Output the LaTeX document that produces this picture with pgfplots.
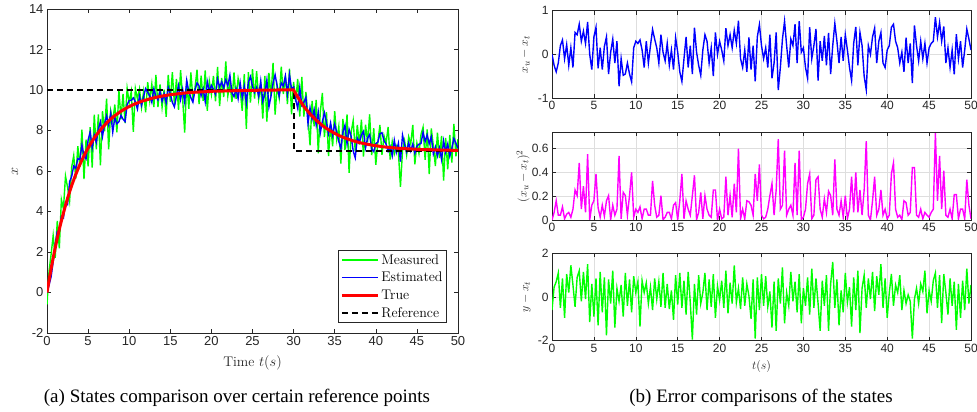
\documentclass[border=0pt]{standalone}
\usepackage{fontspec}
\newfontfamily\sansf{Liberation Sans}
\newfontfamily\serifT{Liberation Serif}
\usepackage{pgfplots}
\usepackage{pgfplotstable}
\pgfplotsset{compat=1.18}
\definecolor{axgray}{gray}{0.15}
\definecolor{gridgray}{gray}{0.87}
\definecolor{mmag}{rgb}{1,0,1}

\pgfplotstableread{
t xt e1 e2 meas est sq
0 0.00 0.00 -0.60 -0.60 0.00 0.000
0.25 0.61 -0.25 0.45 1.06 0.36 0.063
0.5 1.18 -0.40 0.70 1.88 0.78 0.160
0.75 1.71 -0.20 1.10 2.81 1.51 0.040
1 2.21 0.20 -0.50 1.71 2.41 0.040
1.25 2.68 0.33 0.85 3.53 3.01 0.109
1.5 3.13 -0.10 -0.95 2.18 3.03 0.010
1.75 3.54 0.22 1.05 4.59 3.76 0.048
2 3.93 -0.25 0.20 4.13 3.68 0.063
2.25 4.30 0.15 1.45 5.75 4.45 0.023
2.5 4.65 -0.30 0.55 5.20 4.35 0.090
2.75 4.97 0.50 -0.45 4.52 5.47 0.250
3 5.28 0.45 0.90 6.18 5.73 0.203
3.25 5.56 0.69 1.20 6.76 6.25 0.476
3.5 5.83 0.30 -0.20 5.63 6.13 0.090
3.75 6.08 0.53 1.15 7.23 6.61 0.281
4 6.32 0.25 -0.10 6.22 6.57 0.063
4.25 6.54 0.74 1.50 8.04 7.28 0.548
4.5 6.75 0.00 -1.15 5.60 6.75 0.000
4.75 6.95 -0.35 0.60 7.55 6.60 0.123
5 7.13 0.40 -0.90 6.23 7.53 0.160
5.25 7.31 0.62 0.85 8.16 7.93 0.384
5.5 7.47 -0.32 -1.30 6.17 7.15 0.102
5.75 7.63 0.15 1.15 8.78 7.78 0.023
6 7.77 -0.35 -0.70 7.07 7.42 0.123
6.25 7.90 0.18 0.90 8.80 8.08 0.032
6.5 8.03 0.40 -1.75 6.28 8.43 0.160
6.75 8.15 -0.45 0.80 8.95 7.70 0.203
7 8.26 0.05 -0.30 7.96 8.31 0.003
7.25 8.37 0.35 1.20 9.57 8.72 0.123
7.5 8.47 -0.20 -1.40 7.07 8.27 0.040
7.75 8.56 0.30 0.40 8.96 8.86 0.090
8 8.65 -0.73 -0.20 8.45 7.92 0.533
8.25 8.73 -0.10 0.55 9.28 8.63 0.010
8.5 8.81 -0.48 -0.90 7.91 8.33 0.230
8.75 8.88 -0.45 1.10 9.98 8.43 0.203
9 8.95 -0.20 -0.40 8.55 8.75 0.040
9.25 9.01 -0.45 0.80 9.81 8.56 0.203
9.5 9.07 -0.63 -0.70 8.37 8.44 0.397
9.75 9.13 0.15 0.95 10.08 9.28 0.023
10 9.18 0.30 0.20 9.38 9.48 0.090
10.25 9.23 0.25 0.70 9.93 9.48 0.063
10.5 9.28 0.33 -1.35 7.93 9.61 0.109
10.75 9.32 0.10 0.75 10.07 9.42 0.010
11 9.36 -0.30 0.20 9.56 9.06 0.090
11.25 9.40 0.30 0.65 10.05 9.70 0.090
11.5 9.44 -0.20 -0.30 9.14 9.24 0.040
11.75 9.47 0.20 0.45 9.92 9.67 0.040
12 9.50 0.57 -0.60 8.90 10.07 0.325
12.25 9.53 0.35 0.85 10.38 9.88 0.123
12.5 9.56 0.15 -0.10 9.46 9.71 0.023
12.75 9.59 -0.20 0.70 10.29 9.39 0.040
13 9.61 0.45 -0.45 9.16 10.06 0.203
13.25 9.64 0.05 1.10 10.74 9.69 0.003
13.5 9.66 -0.15 -0.50 9.16 9.51 0.023
13.75 9.68 0.25 0.60 10.28 9.93 0.063
14 9.70 -0.25 -0.55 9.15 9.45 0.063
14.25 9.72 0.10 0.30 10.02 9.82 0.010
14.5 9.73 -0.35 -1.05 8.68 9.38 0.123
14.75 9.75 0.38 1.00 10.75 10.13 0.144
15 9.77 0.05 -0.35 9.42 9.82 0.003
15.25 9.78 -0.40 1.10 10.88 9.38 0.160
15.5 9.79 -0.62 -0.50 9.29 9.17 0.384
15.75 9.80 -0.10 0.75 10.55 9.70 0.010
16 9.82 0.40 -0.80 9.02 10.22 0.160
16.25 9.83 -0.30 1.15 10.98 9.53 0.090
16.5 9.84 0.20 -0.25 9.59 10.04 0.040
16.75 9.85 -0.45 -1.95 7.90 9.40 0.203
17 9.86 0.61 0.60 10.46 10.47 0.372
17.25 9.87 0.05 -0.80 9.07 9.92 0.003
17.5 9.87 -0.25 1.00 10.87 9.62 0.063
17.75 9.88 -0.48 -0.30 9.58 9.40 0.230
18 9.89 0.10 0.20 10.09 9.99 0.010
18.25 9.90 0.45 1.10 11.00 10.35 0.203
18.5 9.90 0.30 -0.60 9.30 10.20 0.090
18.75 9.91 -0.20 0.80 10.71 9.71 0.040
19 9.91 0.15 -0.45 9.46 10.06 0.023
19.25 9.92 -0.50 1.05 10.97 9.42 0.250
19.5 9.92 0.50 -0.95 8.97 10.42 0.250
19.75 9.93 0.00 0.50 10.43 9.93 0.000
20 9.93 0.30 -0.15 9.78 10.23 0.090
20.25 9.94 0.10 0.75 10.69 10.04 0.010
20.5 9.94 -0.15 -0.50 9.44 9.79 0.023
20.75 9.94 0.60 1.20 11.14 10.54 0.360
21 9.95 0.20 -0.75 9.20 10.15 0.040
21.25 9.95 0.45 0.65 10.60 10.40 0.203
21.5 9.95 0.15 -0.30 9.65 10.10 0.023
21.75 9.96 0.55 1.45 11.41 10.51 0.303
22 9.96 0.25 -0.25 9.71 10.21 0.063
22.25 9.96 0.77 0.40 10.36 10.73 0.593
22.5 9.96 -0.10 -0.55 9.41 9.86 0.010
22.75 9.97 -0.30 0.90 10.87 9.67 0.090
23 9.97 0.10 -0.40 9.57 10.07 0.010
23.25 9.97 -0.40 0.60 10.57 9.57 0.160
23.5 9.97 0.39 0.05 10.02 10.36 0.152
23.75 9.97 -0.35 -1.00 8.97 9.62 0.123
24 9.98 0.20 0.80 10.78 10.18 0.040
24.25 9.98 -0.62 -1.90 8.08 9.36 0.384
24.5 9.98 0.40 0.90 10.88 10.38 0.160
24.75 9.98 0.68 -0.60 9.38 10.66 0.462
25 9.98 0.20 1.05 11.03 10.18 0.040
25.25 9.98 -0.10 -0.40 9.58 9.88 0.010
25.5 9.98 0.15 0.95 10.93 10.13 0.023
25.75 9.99 -0.30 -0.45 9.54 9.69 0.090
26 9.99 0.45 0.25 10.24 10.44 0.203
26.25 9.99 -0.55 -1.40 8.59 9.44 0.303
26.5 9.99 -0.20 0.70 10.69 9.79 0.040
26.75 9.99 0.50 -1.55 8.44 10.49 0.250
27 9.99 -0.82 0.85 10.84 9.17 0.672
27.25 9.99 -0.30 -0.30 9.69 9.69 0.090
27.5 9.99 0.35 1.35 11.34 10.34 0.123
27.75 9.99 0.76 -1.20 8.79 10.75 0.578
28 10.00 0.20 0.20 10.20 10.20 0.040
28.25 10.00 -0.30 -0.40 9.60 9.70 0.090
28.5 10.00 0.35 1.15 11.15 10.35 0.123
28.75 10.00 0.20 -0.20 9.80 10.20 0.040
29 10.00 0.69 0.70 10.70 10.69 0.476
29.25 10.00 -0.20 -0.70 9.30 9.80 0.040
29.5 10.00 0.76 1.05 11.05 10.76 0.578
29.75 10.00 0.05 -1.20 8.80 10.05 0.003
30 10.00 0.15 0.40 10.40 10.15 0.023
30.25 9.82 -0.30 -0.40 9.42 9.52 0.090
30.5 9.65 -0.55 0.90 10.55 9.10 0.303
30.75 9.49 0.62 -0.80 8.69 10.11 0.384
31 9.34 -0.10 1.30 10.64 9.24 0.010
31.25 9.19 0.20 -0.50 8.69 9.39 0.040
31.5 9.06 0.58 0.85 9.91 9.64 0.336
31.75 8.94 -0.60 -0.30 8.64 8.34 0.360
32 8.82 0.30 -1.55 7.27 9.12 0.090
32.25 8.71 -0.15 0.75 9.46 8.56 0.023
32.5 8.61 0.42 -0.40 8.21 9.03 0.176
32.75 8.51 -0.25 1.00 9.51 8.26 0.063
33 8.42 0.49 -1.55 6.87 8.91 0.240
33.25 8.33 -0.45 0.60 8.93 7.88 0.203
33.5 8.25 0.20 1.60 9.85 8.45 0.040
33.75 8.17 0.71 -0.50 7.67 8.88 0.504
34 8.10 0.30 0.80 8.90 8.40 0.090
34.25 8.04 -0.20 -1.30 6.74 7.84 0.040
34.5 7.97 0.40 0.30 8.27 8.37 0.160
34.75 7.92 -0.15 -0.70 7.22 7.77 0.023
35 7.86 0.45 1.10 8.96 8.31 0.203
35.25 7.81 0.10 -0.25 7.56 7.91 0.010
35.5 7.76 -0.30 0.45 8.21 7.46 0.090
35.75 7.71 -0.60 -1.35 6.36 7.11 0.360
36 7.67 0.25 0.90 8.57 7.92 0.063
36.25 7.63 0.63 -0.60 7.03 8.26 0.397
36.5 7.59 -0.25 1.20 8.79 7.34 0.063
36.75 7.56 0.50 -1.65 5.91 8.06 0.250
37 7.52 0.20 0.40 7.92 7.72 0.040
37.25 7.49 -0.50 1.00 8.49 6.99 0.250
37.5 7.46 -0.81 -0.50 6.96 6.65 0.656
37.75 7.43 0.20 0.85 8.28 7.63 0.040
38 7.41 0.00 -0.10 7.31 7.41 0.000
38.25 7.38 0.40 1.15 8.53 7.78 0.160
38.5 7.36 0.60 -0.65 6.71 7.96 0.360
38.75 7.34 -0.20 0.95 8.29 7.14 0.040
39 7.32 0.30 0.10 7.42 7.62 0.090
39.25 7.30 0.50 1.50 8.80 7.80 0.250
39.5 7.28 -0.20 -0.50 6.78 7.08 0.040
39.75 7.26 -0.30 0.85 8.11 6.96 0.090
40 7.25 0.10 -0.95 6.30 7.35 0.010
40.25 7.23 0.20 0.20 7.43 7.43 0.040
40.5 7.22 0.62 1.05 8.27 7.84 0.384
40.75 7.20 0.69 -0.40 6.80 7.89 0.476
41 7.19 0.30 0.55 7.74 7.49 0.090
41.25 7.18 0.15 0.20 7.38 7.33 0.023
41.5 7.17 -0.20 1.00 8.17 6.97 0.040
41.75 7.16 0.05 -0.60 6.56 7.21 0.003
42 7.15 -0.40 0.30 7.45 6.75 0.160
42.25 7.14 0.38 -0.30 6.84 7.52 0.144
42.5 7.13 -0.20 0.10 7.23 6.93 0.040
42.75 7.12 0.25 -0.20 6.92 7.37 0.063
43 7.12 -0.66 -1.90 5.22 6.46 0.436
43.25 7.11 0.66 -0.10 7.01 7.77 0.436
43.5 7.10 0.20 0.40 7.50 7.30 0.040
43.75 7.10 -0.15 -0.30 6.80 6.95 0.023
44 7.09 0.30 0.60 7.69 7.39 0.090
44.25 7.09 -0.10 0.25 7.34 6.99 0.010
44.5 7.08 0.25 1.20 8.28 7.33 0.063
44.75 7.08 -0.20 -0.75 6.33 6.88 0.040
45 7.07 0.15 0.30 7.37 7.22 0.023
45.25 7.07 0.25 -0.20 6.87 7.32 0.063
45.5 7.06 0.30 0.75 7.81 7.36 0.090
45.75 7.06 0.85 1.10 8.16 7.91 0.723
46 7.05 0.40 -0.50 6.55 7.45 0.160
46.25 7.05 0.73 1.00 8.05 7.78 0.533
46.5 7.05 0.30 -1.20 5.85 7.35 0.090
46.75 7.05 0.64 1.05 8.10 7.69 0.410
47 7.04 -0.20 0.20 7.24 6.84 0.040
47.25 7.04 0.15 -0.80 6.24 7.19 0.023
47.5 7.04 -0.30 0.85 7.89 6.74 0.090
47.75 7.04 0.10 -0.40 6.64 7.14 0.010
48 7.03 -0.46 0.70 7.73 6.57 0.212
48.25 7.03 0.46 -1.50 5.53 7.49 0.212
48.5 7.03 -0.10 0.60 7.63 6.93 0.010
48.75 7.03 0.30 -0.95 6.08 7.33 0.090
49 7.03 -0.30 0.75 7.78 6.73 0.090
49.25 7.02 0.10 -0.60 6.42 7.12 0.010
49.5 7.02 0.58 1.30 8.32 7.60 0.336
49.75 7.02 0.35 -0.30 6.72 7.37 0.123
50 7.02 0.10 0.55 7.57 7.12 0.010
}\datatab

\pgfplotsset{
  matstyle/.style={
    scale only axis,
    axis line style={axgray, line width=0.6pt},
    every tick/.style={axgray, line width=0.5pt},
    major tick length=4pt,
    tick align=inside,
    xmin=0, xmax=50,
    xtick={0,5,...,50},
    /pgf/number format/assume math mode=true,
    label style={text=axgray},
    clip=true,
  },
}

\begin{document}
\begin{tikzpicture}
\useasboundingbox (0pt,0pt) rectangle (977pt,412pt);

% ---------- left panel ----------
\begin{axis}[matstyle,
  at={(47pt,79pt)}, anchor=south west,
  width=411pt, height=324pt,
  ymin=-2, ymax=14, ytick={-2,0,...,14},
  ticklabel style={font=\sansf\fontsize{13}{13}\selectfont, text=axgray},
  xlabel={Time $t(s)$},
  ylabel={$x$},
  xlabel style={at={(axis description cs:0.5,-0.093)}, anchor=center, font=\fontsize{14}{14}\selectfont},
  ylabel style={at={(axis description cs:-0.078,0.5)}, anchor=center, font=\fontsize{14}{14}\selectfont},
  legend style={at={(rel axis cs:0.973,0.031)}, anchor=south east,
    draw=axgray, line width=0.6pt, fill=white,
    font=\fontsize{14}{15}\selectfont, inner sep=2pt,
    row sep=2.5pt},
  legend cell align=left,
  legend image code/.code={\draw[#1] (0pt,0pt) -- (36pt,0pt);},
]
\addplot[color=green, line width=1.4pt] table[x=t, y=meas] {\datatab};
\addlegendentry{Measured}
\addplot[color=blue, line width=1.4pt] table[x=t, y=est] {\datatab};
\addlegendentry{Estimated}
\addplot[black, line width=2pt, dash pattern=on 6pt off 4pt, forget plot] coordinates {(0,10) (30,10) (30,7) (50,7)};
\addplot[color=red, line width=3pt] table[x=t, y=xt] {\datatab};
\addlegendentry{True}
\addlegendimage{black, line width=2pt, dash pattern=on 6pt off 4pt}
\addlegendentry{Reference}
\end{axis}

% ---------- right panels ----------
\begin{axis}[matstyle,
  at={(552pt,314pt)}, anchor=south west,
  width=419pt, height=87.3pt,
  ymin=-1, ymax=1, ytick={-1,0,1},
  grid=major, grid style={gridgray, line width=0.5pt},
  ticklabel style={font=\sansf\fontsize{12}{12}\selectfont, text=axgray},
  ylabel={$x_u - x_t$},
  ylabel style={at={(axis description cs:-0.064,0.5)}, anchor=center, font=\fontsize{13}{13}\selectfont},
]
\addplot[color=blue, line width=1.4pt] table[x=t, y=e1] {\datatab};
\end{axis}

\begin{axis}[matstyle,
  at={(552pt,192pt)}, anchor=south west,
  width=419pt, height=87.7pt,
  ymin=0, ymax=0.73, ytick={0,0.2,0.4,0.6},
  grid=major, grid style={gridgray, line width=0.5pt},
  ticklabel style={font=\sansf\fontsize{12}{12}\selectfont, text=axgray},
  yticklabel style={/pgf/number format/fixed},
  ylabel={$(x_u - x_t)^2$},
  ylabel style={at={(axis description cs:-0.069,0.5)}, anchor=center, font=\fontsize{13}{13}\selectfont},
]
\addplot[color=mmag, line width=1.4pt] table[x=t, y=sq] {\datatab};
\end{axis}

\begin{axis}[matstyle,
  at={(552pt,71.3pt)}, anchor=south west,
  width=419pt, height=87.4pt,
  ymin=-2, ymax=2, ytick={-2,0,2},
  grid=major, grid style={gridgray, line width=0.5pt},
  ticklabel style={font=\sansf\fontsize{12}{12}\selectfont, text=axgray},
  xlabel={$t(s)$},
  xlabel style={at={(axis description cs:0.5,-0.30)}, anchor=center, font=\fontsize{12.5}{12.5}\selectfont},
  ylabel={$y - x_t$},
  ylabel style={at={(axis description cs:-0.062,0.5)}, anchor=center, font=\fontsize{13}{13}\selectfont},
]
\addplot[color=green, line width=1.4pt] table[x=t, y=e2] {\datatab};
\end{axis}

% ---------- captions ----------
\node[font=\serifT\fontsize{19}{19}\selectfont] at (237pt,14pt) {(a) States comparison over certain reference points};
\node[font=\serifT\fontsize{19}{19}\selectfont] at (761pt,14pt) {(b) Error comparisons of the states};
\end{tikzpicture}
\end{document}
